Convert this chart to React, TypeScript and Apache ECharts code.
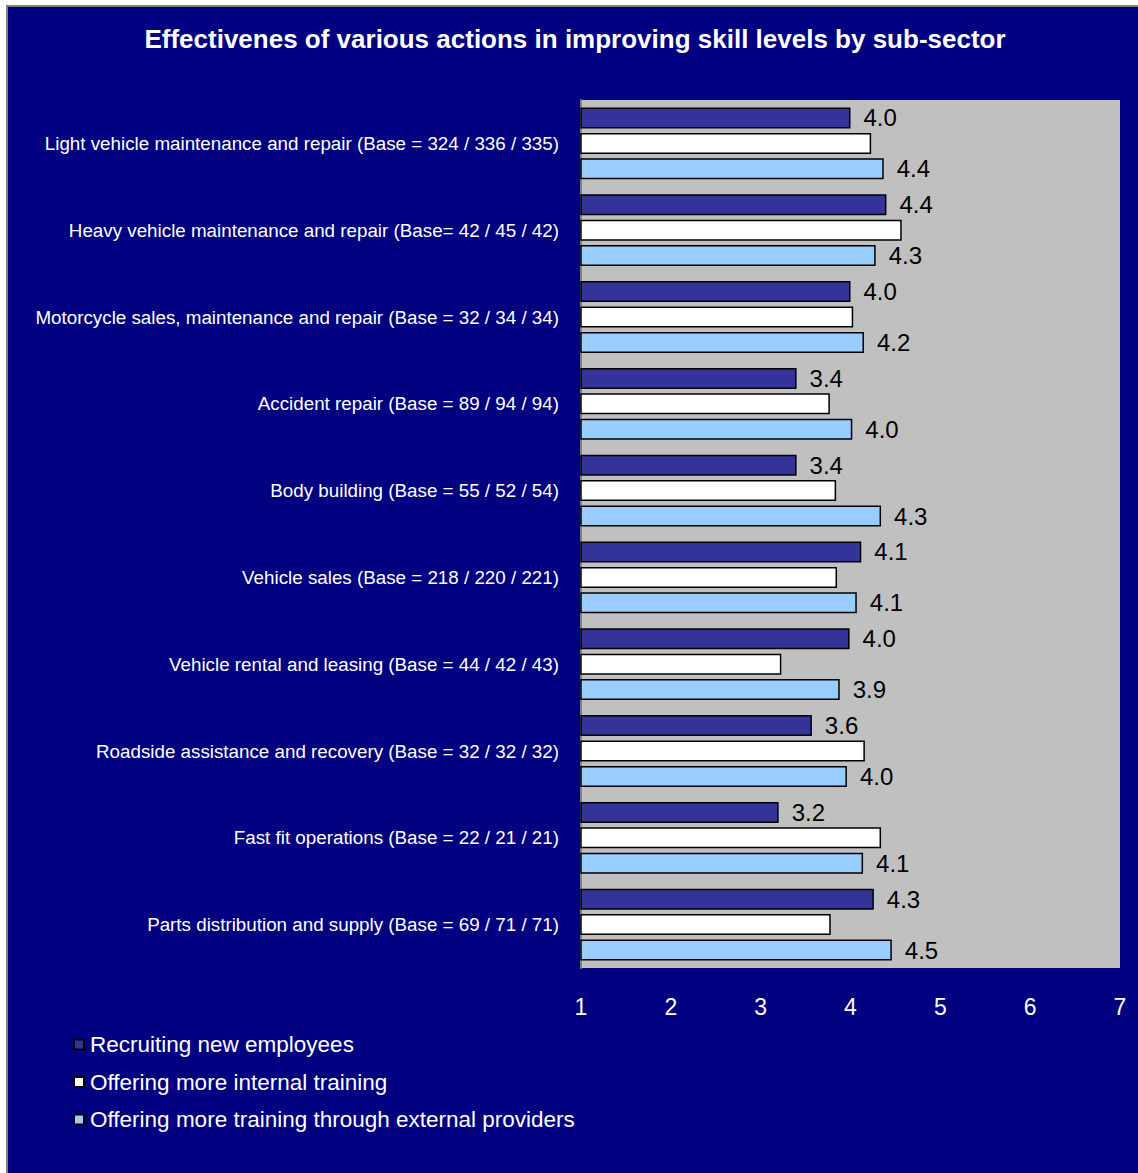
import React, { useEffect, useRef } from "react";
import * as echarts from "echarts";

const categories = [
  "Light vehicle maintenance and repair (Base = 324 / 336 / 335)",
  "Heavy vehicle maintenance and repair (Base= 42 / 45 / 42)",
  "Motorcycle sales, maintenance and repair (Base = 32 / 34 / 34)",
  "Accident repair (Base = 89 / 94 / 94)",
  "Body building (Base = 55 / 52 / 54)",
  "Vehicle sales (Base = 218 / 220 / 221)",
  "Vehicle rental and leasing (Base = 44 / 42 / 43)",
  "Roadside assistance and recovery (Base = 32 / 32 / 32)",
  "Fast fit operations (Base = 22 / 21 / 21)",
  "Parts distribution and supply (Base = 69 / 71 / 71)",
];

const seriesNames = [
  "Recruiting new employees",
  "Offering more internal training",
  "Offering more training through external providers",
];

const recruiting = [4.0, 4.4, 4.0, 3.4, 3.4, 4.12, 3.99, 3.57, 3.2, 4.26];
const internal = [4.23, 4.57, 4.03, 3.77, 3.84, 3.85, 3.23, 4.16, 4.34, 3.78];
const external = [4.37, 4.28, 4.15, 4.02, 4.34, 4.07, 3.88, 3.96, 4.14, 4.46];

const xTicks = [1, 2, 3, 4, 5, 6, 7];

const colors = ["#333399", "#FFFFFF", "#99CCFF"];
const FONT = "'Liberation Sans', Arial, sans-serif";

export default function App() {
  const ref = useRef<HTMLDivElement>(null);
  useEffect(() => {
    if (!ref.current) return;
    const chart = echarts.init(ref.current, undefined, { renderer: "svg" });
    const values = [recruiting, internal, external];
    const showLabel = [true, false, true];
    chart.setOption({
      animation: false,
      backgroundColor: "#000080",
      textStyle: { fontFamily: FONT },
      title: {
        text: "Effectivenes of various actions in improving skill levels by sub-sector",
        left: "center",
        top: 19,
        padding: 0,
        textStyle: { color: "#fff", fontSize: 26, fontWeight: "bold", fontFamily: FONT },
      },
      legend: {
        orient: "vertical",
        left: 65,
        top: 1026,
        itemWidth: 10,
        itemHeight: 10,
        itemGap: 14.5,
        icon: "rect",
        padding: 0,
        textStyle: {
          color: "#fff",
          fontSize: 22.5,
          fontFamily: FONT,
          padding: [0, 0, 0, 1],
        },
        data: seriesNames.map((n, i) => ({
          name: n,
          itemStyle: { color: colors[i], borderColor: "#000", borderWidth: 2 },
        })),
      },
      grid: {
        left: 573,
        top: 93,
        width: 539,
        height: 868,
        show: true,
        backgroundColor: "#C0C0C0",
        borderWidth: 0,
        containLabel: false,
      },
      xAxis: {
        type: "value",
        min: xTicks[0],
        max: xTicks[xTicks.length - 1],
        interval: 1,
        axisLine: { show: false },
        axisTick: { show: false },
        splitLine: { show: false },
        axisLabel: { color: "#fff", fontSize: 23, margin: 27, fontFamily: FONT },
      },
      yAxis: {
        type: "category",
        data: categories,
        inverse: true,
        axisLine: { show: true, lineStyle: { color: "#808080", width: 2 } },
        axisTick: { show: false },
        axisLabel: { color: "#fff", fontSize: 18.8, margin: 22, fontFamily: FONT },
      },
      series: seriesNames.map((name, i) => ({
        name,
        type: "bar",
        data: values[i],
        barWidth: 21,
        barGap: "21%",
        itemStyle: { color: colors[i], borderColor: "#000", borderWidth: 1.5 },
        label: {
          show: showLabel[i],
          position: "right",
          distance: 13,
          color: "#000",
          fontSize: 24,
          fontFamily: FONT,
          formatter: (p: any) => Number(p.value).toFixed(1),
        },
      })),
    });
    return () => chart.dispose();
  }, []);
  return (
    <div style={{ position: "fixed", inset: 0, overflow: "hidden", background: "#fff" }}>
      <div
        style={{
          position: "absolute",
          left: 6,
          top: 5,
          width: 1140,
          height: 1175,
          boxSizing: "border-box",
          border: "2px solid #808080",
          background: "#000080",
        }}
      >
        <div ref={ref} style={{ position: "absolute", left: 0, top: 0, width: 1134, height: 1170 }} />
      </div>
    </div>
  );
}
